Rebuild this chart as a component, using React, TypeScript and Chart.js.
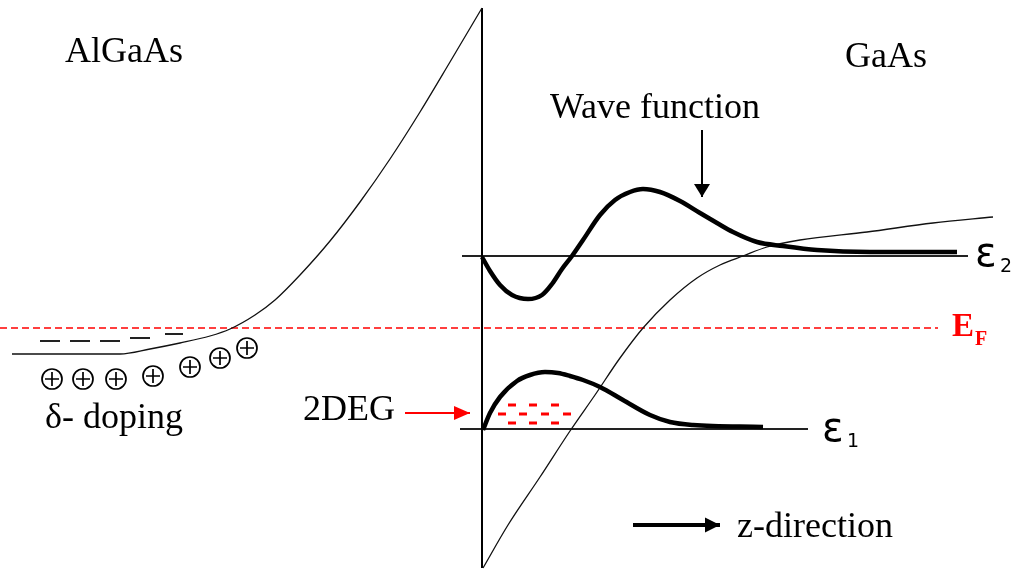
import { useEffect, useRef } from 'react';
import { Chart, registerables } from 'chart.js';

Chart.register(...registerables);

// Coordinates: z (horizontal, left→right) and energy axis (drawn downward-reversed)
const leftBand = [[12,354],[120,354],[150,349],[180,343],[210,336],[230,329],[255,315],[275,300],[300,275],[330,241],[360,202],[390,159],[420,112],[450,62],[482,8]];
const rightBand = [[483,568],[508,525],[540,477],[570,431],[595,395],[620,358],[643,328],[670,300],[697,278],[720,265],[743,256],[767,247],[800,240],[867,232],[933,223],[993,217]];
const interfaceLine = [[482,8],[482,568]];
const level2 = [[462,256],[968,256]];
const level1 = [[460,429],[808,429]];
const fermi = [[0,328],[938,328]];
const wave2 = [[482,257],[490,271],[500,285],[512,295],[528,299],[542,295],[552,284],[562,269],[572,256],[583,240],[600,215],[615,200],[630,192],[643,189],[660,192],[680,201],[700,213],[717,223],[733,232],[757,242],[783,246],[817,250],[870,252],[957,252]];
const wave1 = [[483,430],[490,413],[500,397],[517,381],[530,375],[545,372],[558,373],[570,376],[583,380],[600,387],[623,400],[650,415],[670,422],[693,425],[763,427]];
const donorStates = [[[40,341],[60,341]],[[70,341],[90,341]],[[100,341],[120,341]],[[130,338],[150,338]],[[165,334],[183,334]]];
const dopants = [[52,379],[83,379],[116,379],[153,376],[190,367],[220,358],[247,348]];
const electrons = [[512,405],[533,405],[555,405],[502,414],[523,414],[545,414],[567,414],[512,423],[533,423],[555,423]];
const waveArrow = [[702,130],[702,197]];
const zArrow = [[633,525],[720,525]];
const degArrow = [[405,413],[470,413]];

const labels = [
  { t: 'AlGaAs', x: 65, y: 62, font: '36px "Liberation Serif"', c: '#000' },
  { t: 'GaAs', x: 845, y: 67, font: '36px "Liberation Serif"', c: '#000' },
  { t: 'Wave function', x: 550, y: 118, font: '36px "Liberation Serif"', c: '#000' },
  { t: '2DEG', x: 303, y: 420, font: '36px "Liberation Serif"', c: '#000' },
  { t: 'δ- doping', x: 45, y: 428, font: '36px "Liberation Serif"', c: '#000' },
  { t: 'z-direction', x: 737, y: 537, font: '36px "Liberation Serif"', c: '#000' },
  { t: 'ε', x: 975, y: 266, font: '40px "DejaVu Sans"', c: '#000' },
  { t: '2', x: 1000, y: 272, font: '19px "DejaVu Sans"', c: '#000' },
  { t: 'ε', x: 822, y: 441, font: '40px "DejaVu Sans"', c: '#000' },
  { t: '1', x: 847, y: 447, font: '19px "DejaVu Sans"', c: '#000' },
  { t: 'E', x: 952, y: 336, font: 'bold 33px "Liberation Serif"', c: '#ff0000' },
  { t: 'F', x: 975, y: 345, font: 'bold 20px "Liberation Serif"', c: '#ff0000' },
];

const pts = (a: number[][]) => a.map(([x, y]) => ({ x, y }));

const line = (data: number[][], color: string, width: number, extra: any = {}) => ({
  data: pts(data),
  borderColor: color,
  backgroundColor: color,
  borderWidth: width,
  pointRadius: 0,
  fill: false,
  cubicInterpolationMode: 'monotone',
  clip: false,
  ...extra,
});

const textPlugin = {
  id: 'textLabels',
  afterDatasetsDraw(chart: any) {
    const { ctx, scales } = chart;
    ctx.save();
    ctx.textBaseline = 'alphabetic';
    ctx.textAlign = 'left';
    for (const l of labels) {
      ctx.font = l.font;
      ctx.fillStyle = l.c;
      ctx.fillText(l.t, scales.x.getPixelForValue(l.x), scales.y.getPixelForValue(l.y));
    }
    ctx.restore();
  },
};

const arrowPlugin = {
  id: 'arrowHeads',
  afterDatasetsDraw(chart: any) {
    const { ctx } = chart;
    chart.data.datasets.forEach((ds: any, i: number) => {
      if (!ds.arrowHead) return;
      const meta = chart.getDatasetMeta(i);
      const n = meta.data.length;
      const a = meta.data[n - 2];
      const b = meta.data[n - 1];
      const ang = Math.atan2(b.y - a.y, b.x - a.x);
      const { length, width } = ds.arrowHead;
      ctx.save();
      ctx.translate(b.x, b.y);
      ctx.rotate(ang);
      ctx.beginPath();
      ctx.moveTo(0, 0);
      ctx.lineTo(-length, -width / 2);
      ctx.lineTo(-length, width / 2);
      ctx.closePath();
      ctx.fillStyle = ds.borderColor;
      ctx.fill();
      ctx.restore();
    });
  },
};

export default function App() {
  const ref = useRef<HTMLCanvasElement>(null);
  useEffect(() => {
    document.body.style.margin = '0';
    // listed bottom-to-top in painting order
    const layers: any[] = [
      line(fermi, '#ff0000', 1.7, { borderDash: [7, 4], cubicInterpolationMode: 'default', tension: 0 }),
      line(level2, '#222', 2, { tension: 0 }),
      line(level1, '#222', 2, { tension: 0 }),
      line(interfaceLine, '#000', 2, { tension: 0 }),
      line(leftBand, '#111', 1.3),
      line(rightBand, '#111', 1.3),
      ...donorStates.map((s) => line(s, '#222', 2, { tension: 0 })),
      line(wave2, '#000', 4.5),
      line(wave1, '#000', 4.5),
      {
        data: pts(dopants), showLine: false, pointStyle: 'circle', pointRadius: 10,
        borderColor: '#000', backgroundColor: '#fff', borderWidth: 1.7, clip: false,
      },
      {
        data: pts(dopants), showLine: false, pointStyle: 'cross', pointRadius: 7,
        borderColor: '#000', backgroundColor: '#000', borderWidth: 1.7, clip: false,
      },
      {
        data: pts(electrons), showLine: false, pointStyle: 'line', pointRadius: 4,
        borderColor: '#ff0000', borderWidth: 3, clip: false,
      },
      line(waveArrow, '#000', 2, { tension: 0, arrowHead: { length: 13, width: 16 } }),
      line(zArrow, '#000', 4, { tension: 0, arrowHead: { length: 15, width: 15 } }),
      line(degArrow, '#ff0000', 2, { tension: 0, arrowHead: { length: 16, width: 14 } }),
    ];
    const datasets = layers.map((d, i) => ({ ...d, order: layers.length - i }));
    const chart = new Chart(ref.current!, {
      type: 'line',
      data: { datasets },
      options: {
        animation: false,
        responsive: false,
        events: [],
        layout: { padding: 0, autoPadding: false },
        plugins: { legend: { display: false }, tooltip: { enabled: false } },
        scales: {
          x: { type: 'linear', min: 0, max: 1021, display: false },
          y: { type: 'linear', min: 0, max: 573, reverse: true, display: false },
        },
      },
      plugins: [textPlugin, arrowPlugin],
    });
    return () => chart.destroy();
  }, []);
  return (
    <div style={{ width: 1021, height: 573, overflow: 'hidden', background: '#fff' }}>
      <canvas ref={ref} width={1021} height={573} style={{ display: 'block' }} />
    </div>
  );
}
